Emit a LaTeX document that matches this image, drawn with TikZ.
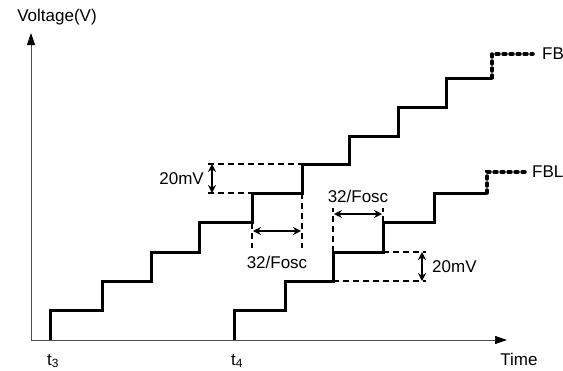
\documentclass[tikz,border=0pt]{standalone}
\usepackage{fontspec}
\setmainfont{Liberation Sans}
\usepackage{tikz}
\usetikzlibrary{positioning}
\usetikzlibrary{arrows.meta}

\begin{document}
\begin{tikzpicture}[x=1pt,y=-1pt,
  axis/.style={line width=1pt,draw=black!70,-{Triangle[width=8pt,length=12pt,color=black]}},
  stair/.style={line width=3pt,line join=miter},
  tail/.style={line width=3.5pt,line cap=round,dash pattern=on 3pt off 4pt},
  guide/.style={line width=1.3pt,dash pattern=on 6pt off 4pt},
  span/.style={line width=1.5pt,{Stealth[length=8pt,width=8pt]}-{Stealth[length=8pt,width=8pt]}},
  lbl/.style={font=\fontsize{17}{19}\selectfont,inner sep=0pt}]
 \useasboundingbox (0,0) rectangle (563,370);
 % axes
 \coordinate (o) at (31,340);
 \coordinate (ytop) at (31,33);
 \coordinate (xend) at (507,340);
 \draw[axis](o)--(ytop);
 \draw[axis](o)--(xend);
 \node[lbl] (vlab) at (57,17) {Voltage(V)};
 \node[lbl] (tlab) at (519,359) {Time};
 \node[lbl] (t3) at (53,361) {t\textsubscript{3}};
 \node[lbl] (t4) at (237,361) {t\textsubscript{4}};
 % FB staircase
 \draw[stair](50,340)--(50,310)--(102,310)--(102,281)--(151,281)--(151,252)--(199,252)--(199,222)--(252,222)--(252,193)--(302,193)--(302,164)--(349,164)--(349,136)--(398,136)--(398,107)--(446,107)--(446,78)--(492,78);
 \draw[tail](492,78)--(492,54)--(533,54);
 \node[lbl,anchor=west] (fb) at (542,54) {FB};
 % FBL staircase
 \draw[stair](234,340)--(234,310)--(285,310)--(285,281)--(333,281)--(333,252)--(383,252)--(383,222)--(434,222)--(434,193)--(487,193);
 \draw[tail](487,193)--(487,172)--(525,172);
 \node[lbl,anchor=west] (fbl) at (532,172) {FBL};
 % FB: 20mV and 32/Fosc
 \coordinate (a1) at (212,164);
 \coordinate (a2) at (212,193);
 \draw[guide](208,164)--(302,164);
 \draw[guide](208,193)--(252,193);
 \draw[span](a1)--(a2);
 \node[lbl,anchor=east] (mv1) at (204,179) {20mV};
 \draw[guide](252,193)--(252,248);
 \draw[guide](302,193)--(302,248);
 \coordinate (b1) at (253,231);
 \coordinate (b2) at (301,231);
 \draw[span](b1)--(b2);
 \node[lbl] (f1) at (277,262) {32/Fosc};
 % FBL: 32/Fosc and 20mV
 \draw[guide](333,252)--(333,208);
 \draw[guide](383,222)--(383,208);
 \coordinate (c1) at (334,214);
 \coordinate (c2) at (382,214);
 \draw[span](c1)--(c2);
 \node[lbl] (f2) at (358,196) {32/Fosc};
 \draw[guide](383,252)--(426,252);
 \draw[guide](333,281)--(426,281);
 \coordinate (d1) at (422,252);
 \coordinate (d2) at (422,281);
 \draw[span](d1)--(d2);
 \node[lbl,anchor=west] (mv2) at (432,267) {20mV};
\end{tikzpicture}
\end{document}
